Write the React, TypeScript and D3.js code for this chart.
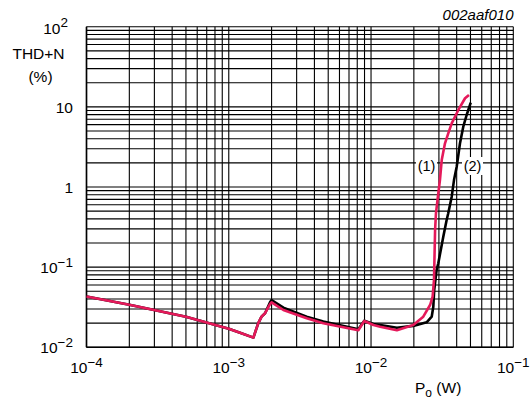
import React from "react";
import * as d3 from "d3";

const W = 530;
const H = 401;
const M = { left: 86.5, right: 513.3, top: 26.7, bottom: 347.3 };

// curve (1) - red
const redX = [1e-4, 2e-4, 5e-4, 1e-3, 1.2e-3, 1.49e-3, 1.61e-3, 1.7e-3, 1.8e-3, 1.95e-3, 2.0e-3, 2.42e-3, 3.53e-3, 4.62e-3, 8.14e-3, 8.97e-3, 1.04e-2, 1.16e-2, 1.52e-2, 1.98e-2, 2.33e-2, 2.6e-2, 2.71e-2, 2.77e-2, 2.82e-2, 2.86e-2, 2.97e-2, 3.05e-2, 3.14e-2, 3.31e-2, 3.49e-2, 3.69e-2, 4.11e-2, 4.58e-2, 4.88e-2];
const redY = [0.043, 0.034, 0.024, 0.017, 0.0152, 0.0132, 0.0199, 0.0241, 0.0266, 0.0345, 0.0364, 0.0292, 0.023, 0.0199, 0.0163, 0.0213, 0.019, 0.0181, 0.0163, 0.019, 0.0241, 0.0337, 0.0428, 0.069, 0.29, 0.47, 0.83, 1.22, 2.17, 3.51, 4.68, 6.23, 9.14, 12.8, 14.1];

// curve (2) - black
const blackX = [1e-4, 2e-4, 5e-4, 1e-3, 1.2e-3, 1.49e-3, 1.61e-3, 1.7e-3, 1.8e-3, 1.95e-3, 2.0e-3, 2.42e-3, 3.53e-3, 4.62e-3, 8.14e-3, 8.97e-3, 1.04e-2, 1.16e-2, 1.52e-2, 1.98e-2, 2.46e-2, 2.67e-2, 2.74e-2, 2.78e-2, 2.89e-2, 2.97e-2, 3.22e-2, 3.4e-2, 3.49e-2, 3.69e-2, 3.83e-2, 4.0e-2, 4.22e-2, 4.45e-2, 4.7e-2, 5.02e-2];
const blackY = [0.043, 0.034, 0.024, 0.017, 0.0152, 0.0132, 0.0199, 0.0241, 0.0266, 0.0365, 0.0389, 0.0312, 0.0241, 0.021, 0.0168, 0.0215, 0.0195, 0.019, 0.0175, 0.0185, 0.0205, 0.0241, 0.0321, 0.0519, 0.0921, 0.112, 0.24, 0.387, 0.47, 0.757, 1.22, 1.79, 3.51, 5.65, 7.91, 11.3];

const xTickValues = [1e-4, 1e-3, 1e-2, 1e-1];
const xTickExp = ["−4", "−3", "−2", "−1"];
const yTickValues = [1e2, 10, 1, 1e-1, 1e-2];
const yTickBase = ["10", "10", "1", "10", "10"];
const yTickExp = ["2", "", "", "−1", "−2"];

const FONT = "Liberation Sans, Arial, Helvetica, sans-serif";

export default function App() {
  const x = d3.scaleLog().domain([1e-4, 1e-1]).range([M.left, M.right]);
  const y = d3.scaleLog().domain([1e-2, 1e2]).range([M.bottom, M.top]);

  const xGrid: number[] = [];
  for (let d = -4; d <= -2; d++) for (let k = 1; k <= 9; k++) xGrid.push(k * Math.pow(10, d));
  xGrid.push(1e-1);
  const yGrid: number[] = [];
  for (let d = -2; d <= 1; d++) for (let k = 1; k <= 9; k++) yGrid.push(k * Math.pow(10, d));
  yGrid.push(1e2);

  const line = d3
    .line<[number, number]>()
    .x((d) => x(d[0]))
    .y((d) => y(d[1]));

  const red = redX.map((v, i) => [v, redY[i]] as [number, number]);
  const black = blackX.map((v, i) => [v, blackY[i]] as [number, number]);

  return (
    <svg width={W} height={H} style={{ position: "absolute", left: 0, top: 0, background: "#fff" }} fontFamily={FONT}>
      <rect x={0} y={0} width={W} height={H} fill="#fff" />
      {xGrid.map((v, i) => (
        <line key={"xg" + i} x1={x(v)} x2={x(v)} y1={M.top} y2={M.bottom} stroke="#000" strokeWidth={1.1} />
      ))}
      {yGrid.map((v, i) => (
        <line key={"yg" + i} x1={M.left} x2={M.right} y1={y(v)} y2={y(v)} stroke="#000" strokeWidth={1.1} />
      ))}
      <line x1={M.left} x2={M.left} y1={M.top} y2={M.bottom} stroke="#000" strokeWidth={1.6} />
      <line x1={M.left} x2={M.right} y1={M.bottom} y2={M.bottom} stroke="#000" strokeWidth={1.6} />

      <path d={line(black) || ""} fill="none" stroke="#000" strokeWidth={2.6} strokeLinejoin="round" />
      <path d={line(red) || ""} fill="none" stroke="#e5195a" strokeWidth={2.6} strokeLinejoin="round" />

      {/* curve labels */}
      <rect x={416} y={157} width={21} height={18} fill="#fff" />
      <text x={426.5} y={171} fontSize={14.5} textAnchor="middle">(1)</text>
      <rect x={462} y={157} width={21} height={18} fill="#fff" />
      <text x={472.5} y={171} fontSize={14.5} textAnchor="middle">(2)</text>

      {/* x tick labels */}
      {xTickValues.map((v, i) => (
        <text key={"xt" + i} x={x(v)} y={373} fontSize={15.5} textAnchor="middle">
          10
          <tspan dy={-6.5} fontSize={13.5}>{xTickExp[i]}</tspan>
        </text>
      ))}
      {/* y tick labels */}
      {yTickValues.map((v, i) =>
        i === 0 ? (
          <text key={"yt" + i} x={68} y={y(v) + 7} fontSize={15.5} textAnchor="end">
            {yTickBase[i]}
            <tspan dy={-6.5} fontSize={13.5}>{yTickExp[i]}</tspan>
          </text>
        ) : (
          <text key={"yt" + i} x={73} y={y(v) + 6} fontSize={15.5} textAnchor="end">
            {yTickBase[i]}
            {yTickExp[i] ? <tspan dy={-6.5} fontSize={13.5}>{yTickExp[i]}</tspan> : null}
          </text>
        )
      )}
      <text x={38.5} y={58.5} fontSize={15.5} textAnchor="middle">THD+N</text>
      <text x={40.5} y={81.5} fontSize={15.5} textAnchor="middle">(%)</text>

      <text x={415} y={393} fontSize={15.5}>
        P<tspan dy={4} fontSize={12}>o</tspan>
        <tspan dy={-4}> (W)</tspan>
      </text>

      <text x={513.5} y={20} fontSize={15} fontStyle="italic" textAnchor="end">002aaf010</text>
    </svg>
  );
}
